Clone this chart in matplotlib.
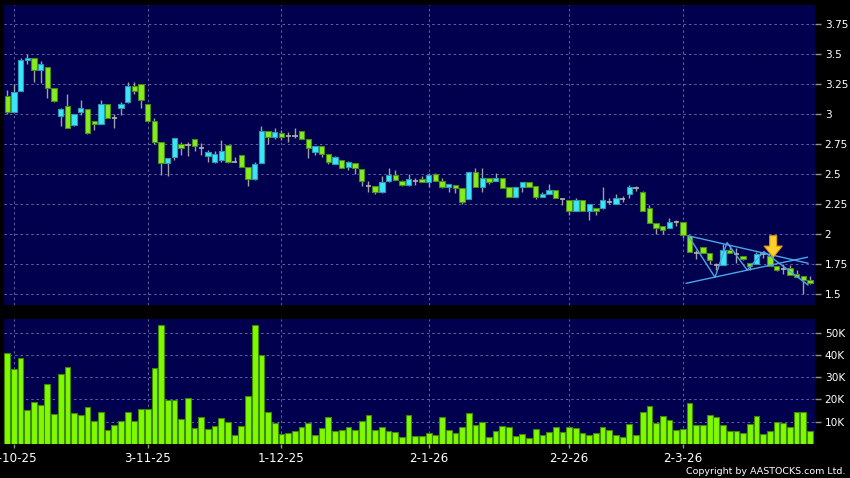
import matplotlib
matplotlib.use('Agg')
import matplotlib.pyplot as plt
import numpy as np

# ---------------- data ----------------
opens = [3.15, 3.02, 3.19, 3.45, 3.47, 3.37, 3.39, 3.22, 2.98, 3.07,
         2.91, 3.02, 3.04, 2.94, 2.92, 3.08, 2.97, 3.05, 3.10, 3.23,
         3.25, 3.08, 2.94, 2.77, 2.59, 2.64, 2.75, 2.74, 2.79, 2.72,
         2.65, 2.60, 2.62, 2.74, 2.60, 2.66, 2.56, 2.46, 2.59, 2.86,
         2.81, 2.84, 2.82, 2.82, 2.86, 2.79, 2.68, 2.73, 2.67, 2.58,
         2.62, 2.56, 2.59, 2.54, 2.40, 2.40, 2.35, 2.44, 2.49, 2.44,
         2.41, 2.44, 2.46, 2.43, 2.50, 2.44, 2.39, 2.41, 2.38, 2.29,
         2.52, 2.39, 2.47, 2.44, 2.47, 2.39, 2.31, 2.39, 2.43, 2.40,
         2.31, 2.33, 2.37, 2.29, 2.28, 2.19, 2.28, 2.19, 2.22, 2.22,
         2.27, 2.25, 2.29, 2.33, 2.38, 2.35, 2.22, 2.09, 2.07, 2.05,
         2.10, 2.10, 1.98, 1.84, 1.89, 1.84, 1.74, 1.74, 1.87, 1.83,
         1.82, 1.76, 1.75, 1.83, 1.82, 1.73, 1.71, 1.72, 1.67, 1.65,
         1.62]
highs = [3.20, 3.25, 3.47, 3.50, 3.47, 3.44, 3.39, 3.22, 3.05, 3.17,
         3.00, 3.12, 3.04, 2.94, 3.12, 3.08, 3.00, 3.10, 3.27, 3.27,
         3.25, 3.08, 2.97, 2.77, 2.63, 2.80, 2.77, 2.77, 2.79, 2.76,
         2.70, 2.69, 2.78, 2.74, 2.64, 2.66, 2.56, 2.60, 2.90, 2.86,
         2.88, 2.87, 2.85, 2.88, 2.86, 2.79, 2.73, 2.73, 2.67, 2.65,
         2.62, 2.61, 2.59, 2.54, 2.44, 2.40, 2.48, 2.55, 2.53, 2.45,
         2.50, 2.47, 2.48, 2.51, 2.51, 2.47, 2.42, 2.41, 2.38, 2.52,
         2.55, 2.55, 2.47, 2.51, 2.47, 2.39, 2.39, 2.43, 2.43, 2.40,
         2.35, 2.42, 2.37, 2.30, 2.28, 2.30, 2.28, 2.25, 2.22, 2.39,
         2.30, 2.33, 2.32, 2.41, 2.40, 2.36, 2.24, 2.09, 2.07, 2.13,
         2.12, 2.10, 1.98, 1.87, 1.89, 1.84, 1.76, 1.92, 1.91, 1.88,
         1.82, 1.76, 1.85, 1.85, 1.82, 1.73, 1.75, 1.74, 1.70, 1.65,
         1.65]
lows = [3.00, 3.01, 3.19, 3.42, 3.27, 3.26, 3.13, 3.10, 2.90, 2.88,
        2.90, 2.99, 2.83, 2.87, 2.92, 2.97, 2.88, 2.99, 3.09, 3.17,
        3.05, 2.94, 2.75, 2.49, 2.48, 2.62, 2.66, 2.65, 2.69, 2.66,
        2.60, 2.59, 2.60, 2.59, 2.60, 2.56, 2.40, 2.45, 2.59, 2.75,
        2.79, 2.78, 2.77, 2.80, 2.79, 2.63, 2.66, 2.64, 2.58, 2.58,
        2.55, 2.53, 2.50, 2.40, 2.35, 2.33, 2.34, 2.43, 2.45, 2.40,
        2.40, 2.41, 2.43, 2.39, 2.44, 2.38, 2.35, 2.34, 2.25, 2.29,
        2.39, 2.35, 2.42, 2.44, 2.38, 2.31, 2.31, 2.35, 2.39, 2.29,
        2.31, 2.33, 2.30, 2.24, 2.16, 2.19, 2.19, 2.12, 2.16, 2.21,
        2.25, 2.25, 2.27, 2.30, 2.36, 2.19, 2.09, 2.00, 2.00, 2.05,
        2.07, 1.97, 1.85, 1.79, 1.84, 1.75, 1.70, 1.74, 1.84, 1.76,
        1.78, 1.70, 1.75, 1.80, 1.73, 1.69, 1.67, 1.66, 1.64, 1.50,
        1.58]
closes = [3.02, 3.18, 3.45, 3.47, 3.37, 3.42, 3.22, 3.11, 3.04, 2.88,
          3.00, 3.05, 2.84, 2.92, 3.08, 2.97, 2.97, 3.08, 3.23, 3.19,
          3.12, 2.94, 2.77, 2.59, 2.63, 2.80, 2.72, 2.74, 2.73, 2.72,
          2.68, 2.67, 2.69, 2.60, 2.60, 2.56, 2.46, 2.58, 2.86, 2.81,
          2.85, 2.81, 2.82, 2.82, 2.79, 2.72, 2.73, 2.67, 2.60, 2.64,
          2.55, 2.60, 2.55, 2.44, 2.40, 2.35, 2.43, 2.49, 2.45, 2.41,
          2.46, 2.44, 2.43, 2.49, 2.44, 2.39, 2.42, 2.38, 2.27, 2.52,
          2.39, 2.47, 2.43, 2.47, 2.38, 2.31, 2.39, 2.43, 2.39, 2.31,
          2.33, 2.37, 2.30, 2.29, 2.19, 2.28, 2.19, 2.25, 2.19, 2.28,
          2.27, 2.30, 2.29, 2.39, 2.38, 2.19, 2.09, 2.05, 2.03, 2.10,
          2.10, 1.99, 1.85, 1.84, 1.84, 1.78, 1.74, 1.87, 1.84, 1.83,
          1.79, 1.73, 1.83, 1.83, 1.73, 1.70, 1.71, 1.66, 1.64, 1.62,
          1.59]
volumes_k = [41.1, 33.8, 38.5, 15.3, 18.8, 17.6, 26.7, 13.5, 31.4, 34.7,
             13.9, 13.0, 16.5, 10.3, 14.2, 6.2, 8.5, 10.3, 14.2, 10.3,
             15.6, 15.8, 34.2, 53.4, 19.8, 19.8, 11.2, 20.6, 7.1, 12.0,
             6.7, 8.0, 11.7, 10.0, 3.9, 8.0, 21.7, 53.7, 40.0, 14.5,
             9.2, 4.2, 4.7, 5.8, 7.7, 9.5, 3.9, 7.1, 12.0, 5.9,
             6.2, 7.4, 6.2, 10.3, 13.0, 6.2, 7.7, 5.9, 5.2, 2.9,
             12.9, 3.5, 3.5, 5.0, 3.8, 12.0, 6.2, 4.7, 7.4, 13.8,
             8.3, 10.0, 3.2, 5.9, 8.2, 7.4, 3.6, 4.2, 2.7, 6.5,
             3.8, 5.2, 7.7, 5.2, 7.4, 7.0, 4.7, 3.9, 4.7, 7.4,
             6.2, 3.9, 2.9, 8.9, 3.9, 14.1, 17.1, 9.5, 12.3, 10.8,
             6.2, 6.5, 18.3, 8.5, 8.3, 13.0, 12.0, 8.5, 5.9, 5.5,
             4.7, 8.8, 12.3, 4.4, 5.9, 9.7, 9.5, 7.4, 14.5, 14.2,
             5.8]
date_labels = ['2-10-25', '3-11-25', '1-12-25', '2-1-26', '2-2-26', '2-3-26']
date_index = [1, 21, 41, 63, 84, 101]
price_ticks = [1.5, 1.75, 2, 2.25, 2.5, 2.75, 3, 3.25, 3.5, 3.75]
price_tick_labels = ['1.5', '1.75', '2', '2.25', '2.5', '2.75', '3', '3.25', '3.5', '3.75']
vol_ticks = [10, 20, 30, 40, 50]
vol_tick_labels = ['10K', '20K', '30K', '40K', '50K']

# chart-pattern drawing (triangle + zigzag) and signal arrow
upper_line_x = [101.8, 119.7]
upper_line_y = [1.985, 1.756]
lower_line_x = [101.5, 119.6]
lower_line_y = [1.589, 1.806]
zigzag_x = [101.8, 105.8, 107.6, 110.6, 113.1, 119.7]
zigzag_y = [1.985, 1.639, 1.928, 1.70, 1.853, 1.575]
arrow_x = 114.5
arrow_top = 1.985
arrow_tip = 1.806

# ---------------- styling ----------------
BG = '#000000'
PANEL = '#00004e'
GRID = '#6464a4'
UP = '#3ce6fa'
UP_EDGE = '#2a9cb0'
DOWN = '#86ec1e'
DOWN_EDGE = '#4a8c1a'
WICK = '#a0a0a0'
VOL = '#80fa00'
VOL_EDGE = '#3f8a00'
TXT = '#ffffff'

W, H = 850, 478
fig = plt.figure(figsize=(W / 100, H / 100), dpi=100, facecolor=BG)

def frac_box(x0, y0, x1, y1):
    return [x0 / W, 1 - y1 / H, (x1 - x0) / W, (y1 - y0) / H]

ax = fig.add_axes(frac_box(4, 5, 815, 305), facecolor=PANEL)
axv = fig.add_axes(frac_box(4, 319, 815, 443.7), facecolor=PANEL, sharex=ax)

n = len(opens)
x = np.arange(n)
o = np.array(opens); h = np.array(highs); l = np.array(lows); c = np.array(closes)

# wicks
ax.vlines(x, l, h, color=WICK, lw=1.0, zorder=2)
bw = 0.8
up = c > o
dn = c < o
dj = c == o
ax.bar(x[up], (c - o)[up], bottom=o[up], width=bw, color=UP,
       edgecolor=UP_EDGE, linewidth=0.8, zorder=3)
ax.bar(x[dn], (o - c)[dn], bottom=c[dn], width=bw, color=DOWN,
       edgecolor=DOWN_EDGE, linewidth=0.8, zorder=3)
ax.hlines(c[dj], x[dj] - bw / 2, x[dj] + bw / 2, color='#b4b4b4', lw=1.2, zorder=3)

# pattern lines
pat_col = '#4aa6ea'
ax.plot(upper_line_x, upper_line_y, color=pat_col, lw=1.0, zorder=4)
ax.plot(lower_line_x, lower_line_y, color=pat_col, lw=1.0, zorder=4)
ax.plot(zigzag_x, zigzag_y, color=pat_col, lw=1.0, zorder=4)
ax.annotate('', xy=(arrow_x, arrow_tip), xytext=(arrow_x, arrow_top),
            arrowprops=dict(width=5, headwidth=13, headlength=8,
                            facecolor='#ffd22a', edgecolor='#e89a10', lw=0.8),
            zorder=6)

# volume
axv.bar(x, volumes_k, width=0.86, color=VOL, edgecolor=VOL_EDGE, linewidth=0.8, zorder=3)

# axes limits
ax.set_xlim(-0.48, 120.75)
ax.set_ylim(1.408, 3.908)
axv.set_ylim(0, 56.2)

for a in (ax, axv):
    for s in a.spines.values():
        s.set_visible(False)
    a.yaxis.tick_right()
    a.tick_params(axis='y', colors='#909090', labelcolor=TXT, direction='out',
                  length=4, width=1, pad=3, labelsize=7.6)
    a.grid(True, color=GRID, lw=0.7, linestyle=(0, (2.5, 3)), zorder=1)
    a.set_axisbelow(True)

ax.set_yticks(price_ticks)
ax.set_yticklabels(price_tick_labels)
axv.set_yticks(vol_ticks)
axv.set_yticklabels(vol_tick_labels)

ax.set_xticks(date_index)
ax.tick_params(axis='x', bottom=False, labelbottom=False)
axv.tick_params(axis='x', colors='#909090', labelcolor=TXT, direction='out',
                length=3, width=1, pad=3, labelsize=8.6)
axv.set_xticks(date_index)
axv.set_xticklabels(date_labels)

fig.text(845 / W, 1 - 471 / H, 'Copyright by AASTOCKS.com Ltd.', color=TXT,
         fontsize=6.8, ha='right', va='center')

fig.savefig('out.png', dpi=100, facecolor=BG)
